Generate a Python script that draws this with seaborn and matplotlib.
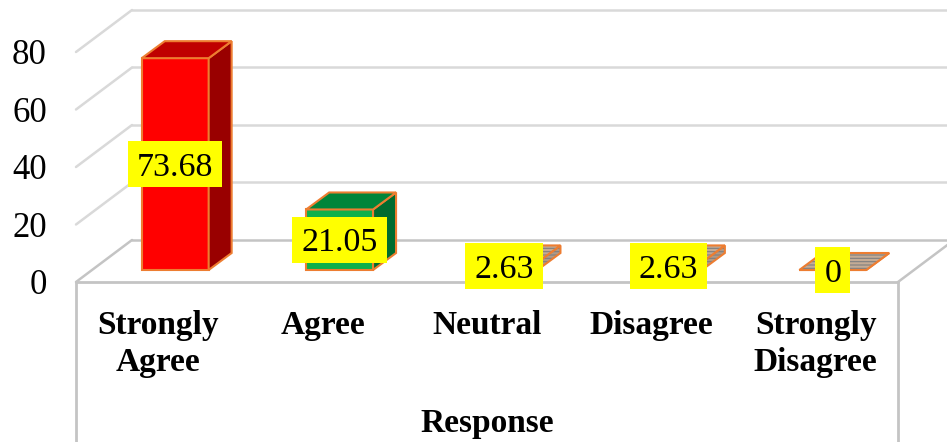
import matplotlib
matplotlib.use("Agg")
import matplotlib.pyplot as plt
from matplotlib.patches import Polygon, Rectangle
from matplotlib.transforms import Affine2D
import seaborn as sns

responses = ["Strongly\nAgree", "Agree", "Neutral", "Disagree", "Strongly\nDisagree"]
values = [73.68, 21.05, 2.63, 2.63, 0]
value_labels = ["73.68", "21.05", "2.63", "2.63", "0"]
y_ticks = [0, 20, 40, 60, 80]
front_colors = ["#FF0000", "#0DB04B", "#C4AB95", "#C4AB95", "#C4AB95"]
top_colors = ["#BF0000", "#00853A", "#C4AB95", "#C4AB95", "#C4AB95"]
side_colors = ["#990000", "#006B2F", "#B09A87", "#B09A87", "#B09A87"]
hatched = [False, False, True, True, True]

W, H, DPI = 947, 442, 100
sns.set_theme(style="white")
plt.rcParams["font.family"] = ["Liberation Serif", "DejaVu Serif"]
plt.rcParams["hatch.linewidth"] = 0.8
plt.rcParams["hatch.color"] = "#7F7F7F"

fig = plt.figure(figsize=(W / DPI, H / DPI), dpi=DPI, facecolor="white")
left, right, floor = 76, 898, 282
ppu_y = 2.875
ax = fig.add_axes([left / W, 1 - floor / H, (right - left) / W, floor / H])
ax.set_xlim(-0.5, 4.5)
ax.set_ylim(0, floor / ppu_y)
ppu_x = (right - left) / 5


def shift(px, py):
    return Affine2D().translate(px / ppu_x, py / ppu_y) + ax.transData


sns.barplot(x=responses, y=values, hue=responses, palette=front_colors, legend=False,
            width=0.407, edgecolor="#ED7D31", linewidth=1.5, saturation=1, ax=ax, zorder=3)

# back wall, left wall and floor
wall_dx, wall_dy = 56, 42
wall = shift(wall_dx, wall_dy)
grid_c, floor_c = "#D9D9D9", "#C4C4C4"
for v in y_ticks:
    c = floor_c if v == 0 else grid_c
    ax.plot([-0.5, 5], [v, v], color=c, lw=1.8, transform=wall, zorder=1, clip_on=False)
    ax.plot([-0.5, -0.5 + wall_dx / ppu_x], [v, v + wall_dy / ppu_y], color=c, lw=1.8,
            zorder=1, clip_on=False)
ax.plot([4.5, 4.5 + wall_dx / ppu_x], [0, wall_dy / ppu_y], color=floor_c, lw=1.8,
        zorder=1, clip_on=False)
ax.plot([-0.5, 4.5], [0, 0], color=floor_c, lw=2, zorder=1, clip_on=False)
for xx in (-0.5, 4.5):
    ax.plot([xx, xx], [0, -160 / ppu_y], color=floor_c, lw=2, zorder=1, clip_on=False)

# bars: the seaborn front faces moved to mid depth, with computed side and top faces
bar_shift = shift(17, 12)
dx, dy = 23 / ppu_x, 17 / ppu_y


def face(pts, fc, hatch):
    if hatch:
        ax.add_patch(Polygon(pts, closed=True, facecolor=fc, edgecolor="#7F7F7F", hatch="-----",
                             lw=0, transform=bar_shift, zorder=3, clip_on=False))
        ax.add_patch(Polygon(pts, closed=True, fill=False, edgecolor="#ED7D31", lw=1.5,
                             transform=bar_shift, zorder=3, clip_on=False))
    else:
        ax.add_patch(Polygon(pts, closed=True, facecolor=fc, edgecolor="#ED7D31", lw=1.5,
                             transform=bar_shift, zorder=3, clip_on=False))


renderer = fig.canvas.get_renderer()
bars = list(ax.patches)[:len(values)]
bars = sorted(bars, key=lambda p: p.get_x())
for i, bar in enumerate(bars):
    x0, x1 = bar.get_x(), bar.get_x() + bar.get_width()
    h = values[i]
    bar.set_transform(bar_shift)
    bar.set_clip_on(False)
    bar.set_zorder(3)
    if hatched[i]:
        bar.set_hatch("-----")
    face([(x1, 0), (x1 + dx, dy), (x1 + dx, h + dy), (x1, h)], side_colors[i], hatched[i])
    face([(x0, h), (x1, h), (x1 + dx, h + dy), (x0 + dx, h + dy)], top_colors[i], hatched[i])
    t = ax.text(i, h / 2, value_labels[i], transform=bar_shift, ha="center",
                va="center_baseline", fontsize=24.5, color="black", zorder=6)
    # yellow label box sized from the measured text
    bw = (t.get_window_extent(renderer).width + 18) / ppu_x
    bh = 46 / ppu_y
    ax.add_patch(Rectangle((i - bw / 2, h / 2 - bh / 2), bw, bh, facecolor="#FFFF00",
                           edgecolor="none", transform=bar_shift, zorder=5, clip_on=False))

ax.set_yticks(y_ticks)
ax.set_yticklabels([str(v) for v in y_ticks], fontsize=25, color="black")
ax.tick_params(axis="y", length=0, pad=21)
ax.tick_params(axis="x", length=0, pad=20)
ax.set_xticks(range(len(responses)))
ax.set_xticklabels(responses, fontsize=24, fontweight="bold", color="black", linespacing=1.25)
ax.set_xlabel("Response", fontsize=24, fontweight="bold", color="black", labelpad=21.5)
ax.set_ylabel("")
ax.grid(False)
ax.patch.set_visible(False)
for s in ax.spines.values():
    s.set_visible(False)

fig.savefig("out.png", dpi=DPI, facecolor="white")
